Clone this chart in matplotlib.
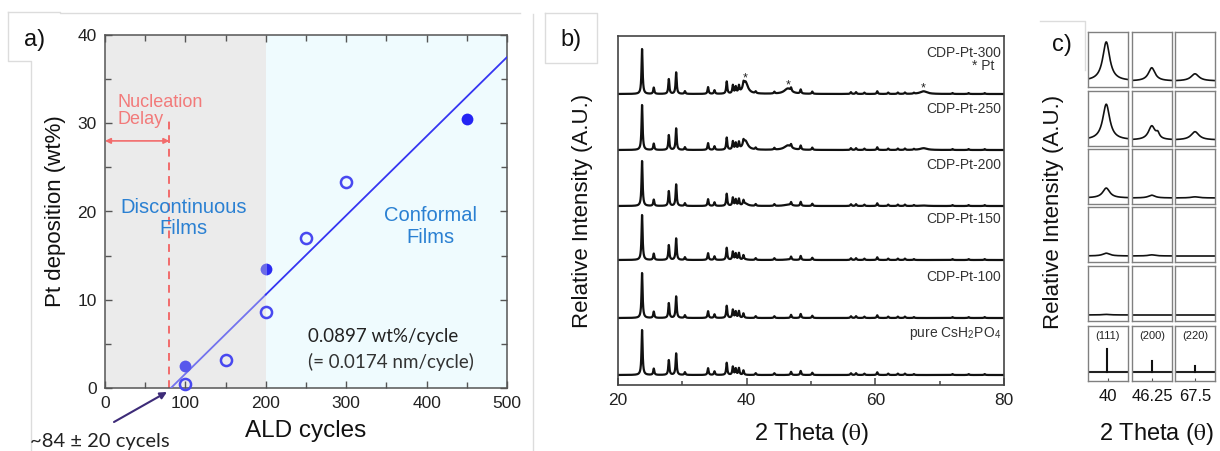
import numpy as np
import matplotlib
matplotlib.use("Agg")
import matplotlib.pyplot as plt
from matplotlib.ticker import MultipleLocator

# ------------------------------------------------------------------ data
# panel a : Pt loading vs ALD cycles
cycles_open = [100, 150, 200, 250, 300]
wt_open = [0.5, 3.2, 8.6, 17.0, 23.3]
cycles_filled_light = [100]
wt_filled_light = [2.5]
cycles_filled_dark = [450]
wt_filled_dark = [30.5]
cycles_half = [200]
wt_half = [13.5]
fit_slope = 0.0897          # wt% / cycle
fit_onset = 82              # cycles at which the fit crosses 0
nucleation_delay = 80       # cycles
nucleation_top = 30.3
arrow_level = 28.0
conformal_start = 200
a_xlim = (0, 500)
a_ylim = (0, 40)
a_xticks = [0, 100, 200, 300, 400, 500]
a_yticks = [0, 10, 20, 30, 40]

# panel b : XRD patterns (peak lists)
b_xlim = (20, 80)
b_xticks = [20, 40, 60, 80]
cdp_pos = [23.74, 25.56, 27.9, 29.04, 30.4, 34.0, 35.0, 36.9, 37.85, 38.3,
           38.8, 39.5, 41.4, 44.3, 46.9, 48.4, 50.2, 56.2, 57.0, 58.3,
           60.3, 62.0, 63.5, 64.6, 66.0, 72.0, 74.5, 77.0]
cdp_height = [1.0, 0.14, 0.33, 0.48, 0.06, 0.15, 0.08, 0.27, 0.18, 0.14,
              0.15, 0.10, 0.04, 0.04, 0.07, 0.09, 0.05, 0.04, 0.04, 0.03,
              0.06, 0.03, 0.03, 0.03, 0.02, 0.02, 0.02, 0.02]
cdp_fwhm = 0.2
pt_pos = [39.8, 46.4, 67.5]
pt_fwhm = [0.9, 1.3, 1.3]
samples = ['pure CsH$_\\mathregular{2}$PO$_\\mathregular{4}$', 'CDP-Pt-100',
           'CDP-Pt-150', 'CDP-Pt-200', 'CDP-Pt-250', 'CDP-Pt-300']
pt_height = [[0.0, 0.0, 0.0], [0.0, 0.0, 0.0], [0.01, 0.01, 0.0],
             [0.05, 0.03, 0.01], [0.20, 0.10, 0.04], [0.27, 0.12, 0.06]]
trace_offset = [0, 57, 115, 169, 225, 281]   # stacked offsets
trace_scale = 45

# panel c : zoom on Pt reflections
c_centers = [40, 46.25, 67.5]
c_center_labels = ['40', '46.25', '67.5']
c_half_range = [4.0, 4.0, 4.0]
c_peak_pos = [39.65, 46.2, 67.5]
c_peak_fwhm = [1.7, 1.6, 1.9]
c_rows_height = [[0.71, 0.24, 0.13],
                 [0.65, 0.25, 0.15],
                 [0.18, 0.05, 0.02],
                 [0.05, 0.02, 0.0],
                 [0.01, 0.0, 0.0]]
c_shoulder_pos = 47.4
c_shoulder_height = [0.0, 0.09, 0.0, 0.0, 0.0]
c_baseline = 0.11
ref_labels = ['(111)', '(200)', '(220)']
ref_pos = [39.76, 46.24, 67.45]
ref_height = [0.42, 0.20, 0.11]
ref_baseline = 0.16

# ------------------------------------------------------------------ figure
W, H = 1220, 451
plt.rcParams['font.family'] = ['Liberation Sans', 'DejaVu Sans']
plt.rcParams['mathtext.fontset'] = 'stix'
fig = plt.figure(figsize=(W / 100, H / 100), dpi=100)


def rect(x0, y0, x1, y1):
    return [x0 / W, 1 - y1 / H, (x1 - x0) / W, (y1 - y0) / H]


def fxy(x, y):
    return x / W, 1 - y / H


def lorentz(x, p, w):
    return 1.0 / (1.0 + ((x - p) / (w / 2.0)) ** 2)


# decoration lines (screen-shot panel frames)
deco = fig.add_axes([0, 0, 1, 1], zorder=-5)
deco.set_xlim(0, W)
deco.set_ylim(H, 0)
deco.axis('off')
lc = '#dcdcdc'
for xs, ys in [([8, 8, 31, 31], [12, 61, 61, 451]), ([8, 60, 60, 520], [12, 12, 13, 13]),
               ([533, 533], [14, 451]), ([545, 597, 597, 545, 545], [13, 13, 63, 63, 13]),
               ([1040, 1085, 1085], [21, 21, 70])]:
    deco.plot(xs, ys, color=lc, lw=1)

fig.text(*fxy(35, 40), 'a)', fontsize=17, ha='center', va='center', color='#111')
fig.text(*fxy(571, 40), 'b)', fontsize=17, ha='center', va='center', color='#111')
fig.text(*fxy(1062, 45), 'c)', fontsize=17, ha='center', va='center', color='#111')

# ------------------------------------------------------------------ panel a
axa = fig.add_axes(rect(105, 35, 507, 388))
axa.axvspan(a_xlim[0], conformal_start, color='#ebebeb', zorder=0, lw=0)
axa.axvspan(conformal_start, a_xlim[1], color='#effbfe', zorder=0, lw=0)
fx1 = np.array([fit_onset, conformal_start])
fx2 = np.array([conformal_start, a_xlim[1]])
axa.plot(fx1, fit_slope * (fx1 - fit_onset), color='#7373ee', lw=1.3, zorder=3)
axa.plot(fx2, fit_slope * (fx2 - fit_onset), color='#3535f2', lw=1.3, zorder=3)
axa.plot([nucleation_delay, nucleation_delay], [a_ylim[0], nucleation_top],
         color='#f26b6b', lw=1.4, ls=(0, (4, 3)), zorder=2)
axa.annotate('', xy=(a_xlim[0], arrow_level), xytext=(nucleation_delay, arrow_level),
             arrowprops=dict(arrowstyle='<|-|>', color='#f26b6b', lw=1.2,
                             mutation_scale=8, shrinkA=0, shrinkB=0))
axa.plot(cycles_open, wt_open, 'o', ms=8, mfc='none', mec='#4848f0', mew=1.8,
         zorder=4, clip_on=False)
axa.plot(cycles_filled_light, wt_filled_light, 'o', ms=8.5, mfc='#5858ec', mec='#5858ec',
         mew=0, zorder=4)
axa.plot(cycles_filled_dark, wt_filled_dark, 'o', ms=8.5, mfc='#2424f4', mec='#2424f4',
         mew=0, zorder=4)
axa.plot(cycles_half, wt_half, 'o', ms=8.5, fillstyle='left', mfc='#6b6be6',
         markerfacecoloralt='#2a2af2', mew=0, zorder=4)

axa.text(16, 31.4, 'Nucleation\nDelay', color='#f27a7a', fontsize=13,
         ha='left', va='center', linespacing=1.05)
axa.text(98, 19.3, 'Discontinuous\nFilms', color='#2a80d2', fontsize=14.5,
         ha='center', va='center', linespacing=1.15)
axa.text(405, 18.3, 'Conformal\nFilms', color='#2a80d2', fontsize=14.5,
         ha='center', va='center', linespacing=1.15)
axa.text(252, 5.8, '0.0897 wt%/cycle', fontsize=13.5, family='Lato', color='#222',
         ha='left', va='center')
axa.text(252, 3.0, '(= 0.0174 nm/cycle)', fontsize=13.5, family='Lato', color='#333',
         ha='left', va='center')

axa.set_xlim(*a_xlim)
axa.set_ylim(*a_ylim)
axa.set_xticks(a_xticks)
axa.set_yticks(a_yticks)
axa.xaxis.set_minor_locator(MultipleLocator(50))
axa.yaxis.set_minor_locator(MultipleLocator(5))
axa.tick_params(which='both', direction='in', top=True, right=True, colors='#555',
                labelcolor='#222', labelsize=12.5, width=1)
axa.tick_params(which='major', length=5, pad=6)
axa.tick_params(which='minor', length=4)
for s in axa.spines.values():
    s.set_color('#555')
    s.set_linewidth(1.1)
axa.set_xlabel('ALD cycles', fontsize=17.5, labelpad=6, color='#111')
axa.set_ylabel('Pt deposition (wt%)', fontsize=16, labelpad=8, color='#111')

fig.text(*fxy(30, 441), '~84 \u00b1 20 cycels', fontsize=14.5, family='Lato',
         color='#222', ha='left', va='center')
deco.annotate('', xy=(167, 392), xytext=(114, 422),
              arrowprops=dict(arrowstyle='-|>', color='#3d2b78', lw=1.5,
                              mutation_scale=10, shrinkA=0, shrinkB=0))

# ------------------------------------------------------------------ panel b
axb = fig.add_axes(rect(618, 36, 1004, 385))
x = np.linspace(b_xlim[0], b_xlim[1], 4000)
base = sum(h * lorentz(x, p, cdp_fwhm) for p, h in zip(cdp_pos, cdp_height))
for name, pth, off in zip(samples, pt_height, trace_offset):
    y = base + sum(h * lorentz(x, p, w) for p, w, h in zip(pt_pos, pt_fwhm, pth))
    axb.plot(x, off + trace_scale * y, color='#111', lw=1.6)
    axb.text(79.5, off + 41, name, fontsize=10, color='#333', ha='right', va='center')
top_off = trace_offset[-1]
for p, h in zip(pt_pos, pt_height[-1]):
    peak_val = np.interp(p, x, base) + h
    axb.text(p, top_off + trace_scale * peak_val + 3, '*', fontsize=9, color='#222',
             ha='center', va='center')
axb.text(78.5, top_off + 28, '* Pt', fontsize=10, color='#333', ha='right', va='center')
axb.set_xlim(*b_xlim)
axb.set_ylim(-10, 339)
axb.set_xticks(b_xticks)
axb.xaxis.set_minor_locator(MultipleLocator(10))
axb.set_yticks([])
axb.tick_params(which='both', direction='in', colors='#444', labelcolor='#222',
                labelsize=12.5, width=1.1)
axb.tick_params(which='major', length=5, pad=6)
axb.tick_params(which='minor', length=3)
for s in axb.spines.values():
    s.set_color('#444')
    s.set_linewidth(1.2)
axb.set_xlabel('2 Theta ($\\mathrm{\\theta}$)', fontsize=17, labelpad=9, color='#111')
axb.set_ylabel('Relative Intensity (A.U.)', fontsize=16, labelpad=18, color='#111')

# ------------------------------------------------------------------ panel c
col_x = [1088, 1132, 1175]
row_y = [32, 91, 149, 207, 266, 326]
cw, ch = 40, 55
for r, ry in enumerate(row_y):
    for c, cx in enumerate(col_x):
        ax = fig.add_axes(rect(cx, ry, cx + cw, ry + ch))
        lo, hi = c_centers[c] - c_half_range[c], c_centers[c] + c_half_range[c]
        if r < len(c_rows_height):
            xx = np.linspace(lo, hi, 300)
            yy = c_baseline + c_rows_height[r][c] * lorentz(xx, c_peak_pos[c], c_peak_fwhm[c])
            if c == 1:
                yy = yy + c_shoulder_height[r] * lorentz(xx, c_shoulder_pos, 0.8)
            ax.plot(xx, yy, color='#111', lw=1.2)
            ax.set_xticks([])
        else:
            ax.axhline(ref_baseline, color='#222', lw=1.5)
            ax.plot([ref_pos[c], ref_pos[c]], [ref_baseline, ref_baseline + ref_height[c]],
                    color='#111', lw=1.5)
            ax.text(0.5, 0.82, ref_labels[c], transform=ax.transAxes, fontsize=8,
                    ha='center', va='center', color='#222')
            ax.set_xticks([c_centers[c]])
            ax.set_xticklabels([c_center_labels[c]])
            ax.tick_params(axis='x', direction='in', length=2.5, width=0.8, colors='#555',
                           labelcolor='#111', labelsize=12, pad=6)
        ax.set_xlim(lo, hi)
        ax.set_ylim(0, 1)
        ax.set_yticks([])
        for s in ax.spines.values():
            s.set_color('#808080')
            s.set_linewidth(1.0)

fig.text(*fxy(1054, 212), 'Relative Intensity (A.U.)', fontsize=16, rotation=90,
         ha='center', va='center', color='#111')
fig.text(*fxy(1156, 434), '2 Theta ($\\mathrm{\\theta}$)', fontsize=17,
         ha='center', va='center', color='#111')

fig.savefig('out.png', dpi=100)
